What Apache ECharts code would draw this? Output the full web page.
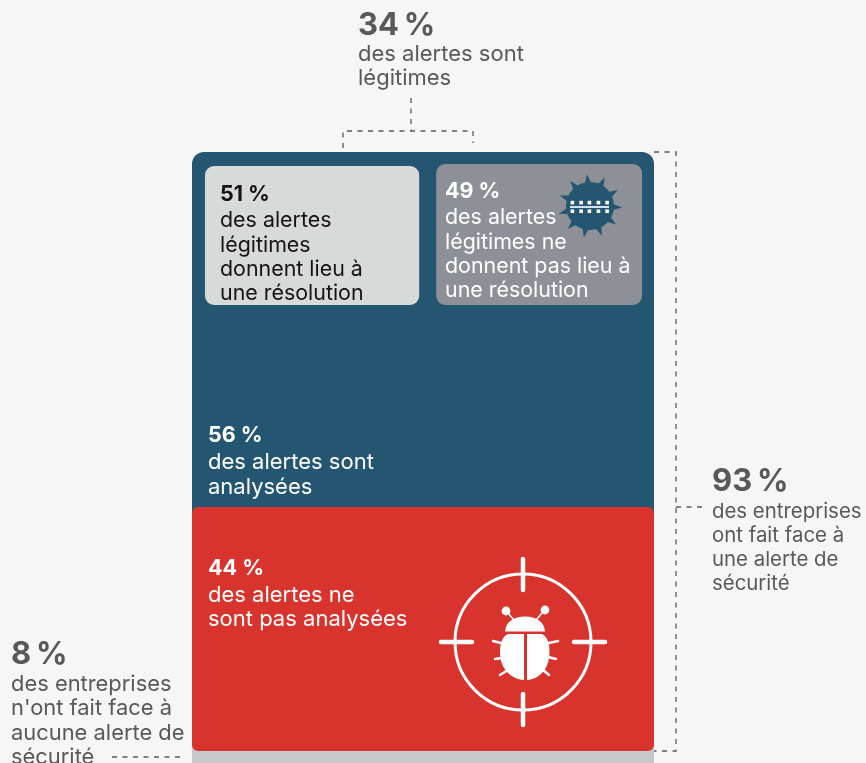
<!DOCTYPE html>
<html lang="fr">
<head>
<meta charset="utf-8">
<title>Alertes de sécurité</title>
<style>
  html, body { margin: 0; padding: 0; background: #f6f6f6; overflow: hidden; }
  #chart { width: 866px; height: 763px; }
</style>
<script src="https://cdn.jsdelivr.net/npm/echarts@6/dist/echarts.min.js"></script>
</head>
<body>
<div id="chart"></div>
<script>
// Share of companies, alerts and legitimate alerts, in percent
const companyFacedAlert = 93;
const companyNoAlert = 8;
const alertsAnalysed = 56;
const alertsNotAnalysed = 44;
const legitimateResolved = 51;
const legitimateUnresolved = 49;
const legitimateAlerts = 34;

// Wording of each call-out, line by line
const legitimateLines = ['des alertes sont', 'légitimes'];
const resolvedLines = ['des alertes', 'légitimes', 'donnent lieu à', 'une résolution'];
const unresolvedLines = ['des alertes', 'légitimes ne', 'donnent pas lieu à', 'une résolution'];
const analysedLines = ['des alertes sont', 'analysées'];
const notAnalysedLines = ['des alertes ne', 'sont pas analysées'];
const facedLines = ['des entreprises', 'ont fait face à', 'une alerte de', 'sécurité'];
const noAlertLines = ['des entreprises', "n'ont fait face à", 'aucune alerte de', 'sécurité'];

const FONT = 'Inter, "Liberation Sans", sans-serif';
const BLUE = '#245672', RED = '#d8332c', GREY_BAR = '#c5c8cb';
const CARD_LIGHT = '#d8d9d9', CARD_DARK = '#8d9097';
const INK = '#58595b', BLACK = '#141414', WHITE = '#ffffff';

function callout(value, lines, x, headY, lineYs, color, headSize, bodySize) {
  // The large headings close up the gap before the percent sign
  const gap = headSize > 25 ? '\u2009' : ' ';
  const items = [{
    type: 'text', z: 20, silent: true,
    style: { text: value + gap + '%', x: x, y: headY, fill: color, verticalAlign: 'middle',
             font: '700 ' + headSize + 'px ' + FONT }
  }];
  lines.forEach(function (line, i) {
    items.push({
      type: 'text', z: 20, silent: true,
      style: { text: line, x: x, y: lineYs[i], fill: color, verticalAlign: 'middle',
               font: '400 ' + bodySize + 'px ' + FONT }
    });
  });
  return items;
}

function dashed(points) {
  return {
    type: 'polyline', z: 5, silent: true,
    shape: { points: points },
    style: { stroke: INK, lineWidth: 1.3, lineDash: [5, 5.5], fill: null }
  };
}

function whiteStroke(x1, y1, x2, y2, width) {
  return {
    type: 'line', z: 15, silent: true,
    shape: { x1: x1, y1: y1, x2: x2, y2: y2 },
    style: { stroke: WHITE, lineWidth: width, lineCap: 'round' }
  };
}

// Target reticle around the bug, with its antennae and legs
function reticleIcon() {
  const cx = 523, cy = 642;
  const items = [
    { type: 'circle', z: 15, silent: true, shape: { cx: cx, cy: cy, r: 68 },
      style: { stroke: WHITE, lineWidth: 3, fill: null } },
    whiteStroke(cx, cy - 83, cx, cy - 52, 4.5),
    whiteStroke(cx, cy + 52, cx, cy + 83, 4.5),
    whiteStroke(cx - 82, cy, cx - 51, cy, 4.5),
    whiteStroke(cx + 51, cy, cx + 82, cy, 4.5),
    { type: 'circle', z: 15, silent: true, shape: { cx: 506, cy: 611, r: 4.4 }, style: { fill: WHITE } },
    { type: 'circle', z: 15, silent: true, shape: { cx: 545, cy: 610, r: 4.4 }, style: { fill: WHITE } },
    whiteStroke(508, 613, 513, 619, 1.6),
    whiteStroke(542, 613, 537, 619, 1.6)
  ];
  [[493, 641, 501, 643], [495, 659, 502, 658], [500, 675, 508, 670],
   [558, 641, 549, 643], [556, 659, 548, 657], [549, 675, 542, 669]].forEach(function (l) {
    items.push(whiteStroke(l[0], l[1], l[2], l[3], 2.4));
  });
  return items;
}

// Head and wing outlines of the bug, each with its bounding box
const bugParts = [
  { d: 'M505.5 631.5 C506 622 514 616.5 525 616.5 C536 616.5 544 622 544.5 631.5 Z',
    x: 505, y: 616.5, width: 40, height: 15 },
  { d: 'M524 634 L524 680 C510 679 500 668 500 652 C500 643 502 637 508 634 Z',
    x: 500, y: 634, width: 24, height: 46 },
  { d: 'M527 634 L527 680 C540 679 549.5 668 549.5 652 C549.5 643 547.5 637 542 634 Z',
    x: 527, y: 634, width: 22.5, height: 46 }
];

// Spiked virus with its strip of dots
function virusIcon() {
  const cx = 590, cy = 206, spikes = 11;
  const points = [];
  for (let i = 0; i < spikes; i++) {
    const a = (i / spikes) * Math.PI * 2 + 0.05;
    points.push([cx + 22 * Math.cos(a - 0.16), cy + 22 * Math.sin(a - 0.16)]);
    points.push([cx + 32 * Math.cos(a), cy + 32 * Math.sin(a)]);
    points.push([cx + 22 * Math.cos(a + 0.16), cy + 22 * Math.sin(a + 0.16)]);
  }
  const items = [
    { type: 'circle', z: 15, silent: true, shape: { cx: cx, cy: cy, r: 24 }, style: { fill: BLUE } },
    { type: 'polygon', z: 15, silent: true, shape: { points: points }, style: { fill: BLUE } },
    { type: 'rect', z: 16, silent: true, shape: { x: 570, y: 206, width: 39, height: 2 },
      style: { fill: '#d5e2ea' } }
  ];
  [570.6, 579.3, 587.6, 596.6, 605.3].forEach(function (x) {
    [200.8, 209.4].forEach(function (y) {
      items.push({ type: 'rect', z: 16, silent: true,
        shape: { x: x, y: y, width: 3.6, height: 3.6 }, style: { fill: WHITE } });
    });
  });
  return items;
}

const CARD_GAP = 17;

const option = {
  animation: false,
  backgroundColor: '#f6f6f6',
  // Company column, alert column inside it, and the row of two cards
  grid: [
    { left: 192, width: 462, top: 152, height: 650.5 },
    { left: 192, width: 462, top: 196.5, height: 554.5 },
    { left: 205, width: 420, top: 164, height: 141 }
  ],
  xAxis: [
    { type: 'category', gridIndex: 0, data: ['entreprises'], show: false },
    { type: 'category', gridIndex: 1, data: ['alertes'], show: false },
    { type: 'value', gridIndex: 2, min: 0, max: legitimateResolved + legitimateUnresolved, show: false }
  ],
  yAxis: [
    { type: 'value', gridIndex: 0, min: 0, max: companyFacedAlert + companyNoAlert, show: false },
    { type: 'value', gridIndex: 1, min: 0, max: alertsAnalysed + alertsNotAnalysed, show: false },
    { type: 'value', gridIndex: 2, min: 0, max: 1, show: false }
  ],
  series: [
    { type: 'bar', xAxisIndex: 0, yAxisIndex: 0, stack: 'companies', barWidth: '100%', z: 1, silent: true,
      data: [companyNoAlert], itemStyle: { color: GREY_BAR } },
    { type: 'bar', xAxisIndex: 0, yAxisIndex: 0, stack: 'companies', barWidth: '100%', z: 1, silent: true,
      data: [companyFacedAlert], itemStyle: { color: BLUE, borderRadius: [12, 12, 6, 6] } },
    { type: 'bar', xAxisIndex: 1, yAxisIndex: 1, stack: 'alerts', barWidth: '100%', z: 2, silent: true,
      data: [alertsNotAnalysed], itemStyle: { color: RED, borderRadius: 6 } },
    { type: 'bar', xAxisIndex: 1, yAxisIndex: 1, stack: 'alerts', barWidth: '100%', z: 1, silent: true,
      data: [alertsAnalysed], itemStyle: { color: BLUE } },
    {
      type: 'custom', xAxisIndex: 2, yAxisIndex: 2, z: 3, silent: true, clip: false,
      encode: { x: [0, 1] },
      data: [
        [0, legitimateResolved],
        [legitimateResolved, legitimateResolved + legitimateUnresolved]
      ],
      renderItem: function (params, api) {
        const i = params.dataIndex;
        const start = api.coord([api.value(0), 0]);
        const end = api.coord([api.value(1), 1]);
        const top = end[1] + (i === 0 ? 2 : 0);
        return {
          type: 'rect',
          shape: {
            x: start[0] + (i === 0 ? 0 : CARD_GAP),
            y: top,
            width: end[0] - start[0],
            height: start[1] - top,
            r: 9
          },
          style: { fill: i === 0 ? CARD_LIGHT : CARD_DARK }
        };
      }
    },
    {
      type: 'custom', coordinateSystem: 'none', z: 4, silent: true,
      data: [[0]],
      renderItem: function () {
        return {
          type: 'group',
          children: bugParts.map(function (part) {
            return {
              type: 'path',
              shape: { pathData: part.d, layout: 'cover', x: part.x, y: part.y,
                       width: part.width, height: part.height },
              style: { fill: WHITE }
            };
          })
        };
      }
    }
  ],
  graphic: [].concat(
    callout(legitimateAlerts, legitimateLines, 358, 26, [54, 78], INK, 31, 22),
    callout(legitimateResolved, resolvedLines, 220, 195, [221, 246, 270, 294], BLACK, 21.5, 21.4),
    callout(legitimateUnresolved, unresolvedLines, 445, 192, [218, 243, 267, 291], WHITE, 21.5, 21.4),
    callout(alertsAnalysed, analysedLines, 208, 436, [462, 487], WHITE, 21.5, 22),
    callout(alertsNotAnalysed, notAnalysedLines, 208, 569, [595, 619], WHITE, 21.5, 22),
    callout(companyFacedAlert, facedLines, 712, 482, [512, 536, 560, 584], INK, 31, 20.4),
    callout(companyNoAlert, noAlertLines, 11, 655, [684, 708, 733, 757], INK, 31, 21.9),
    [
      dashed([[343, 148], [343, 131], [473, 131], [473, 143]]),
      dashed([[411, 98], [411, 131]]),
      dashed([[654, 152], [676, 152], [676, 751], [654, 751]]),
      dashed([[676, 507], [707, 507]]),
      dashed([[112, 757], [184, 757]])
    ],
    reticleIcon(),
    virusIcon()
  )
};

echarts.init(document.getElementById('chart'), null, { renderer: 'canvas' }).setOption(option);
</script>
</body>
</html>
